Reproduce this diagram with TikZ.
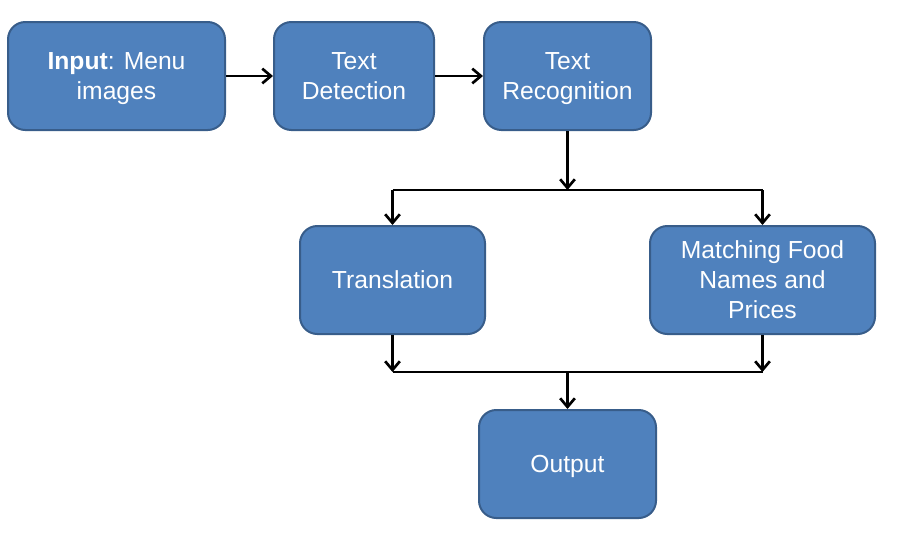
\documentclass[tikz,border=0pt]{standalone}
\usepackage{fontspec}
\setmainfont{Liberation Sans}
\usetikzlibrary{arrows.meta}
\usetikzlibrary{calc}

\definecolor{boxfill}{HTML}{4F81BD}
\definecolor{boxline}{HTML}{385D8A}
% line strut, so that the letters sit in the middle of the box
\newcommand{\ls}{\rule[-4pt]{0pt}{21pt}}

\tikzset{
	stage/.style={draw=boxline,fill=boxfill,line width=1.5pt,rounded corners=13pt,
		text=white,align=center,minimum height=81pt,inner sep=2pt,
		font=\fontsize{18.5}{22.5}\selectfont},
	link/.style={line width=2pt,black}
}

\begin{document}
\begin{tikzpicture}[x=0.75pt,y=-0.75pt,>/.tip={Straight Barb[length=6.5pt,width=11pt,line width=2pt]}]
	\useasboundingbox (0,0) rectangle (907,547);
	\draw (116.5,76) node (input) [stage,minimum width=162.75pt] {\ls\textbf{Input}: Menu\\\ls images};
	\draw (354,76) node (detect) [stage,minimum width=120pt] {\ls Text\\\ls Detection};
	\draw (567.5,76) node (recog) [stage,minimum width=125.25pt] {\ls Text\\\ls Recognition};
	\draw (392.5,280) node (trans) [stage,minimum width=138.75pt] {\ls Translation};
	\draw (762.5,280) node (match) [stage,minimum width=168.75pt] {\ls Matching Food\\\ls Names and\\\ls Prices};
	\draw (567.5,464) node (out) [stage,minimum width=132.75pt] {\ls Output};
	\coordinate (split) at (567.5,190);
	\coordinate (merge) at (567.5,372);

	\draw[->,link] (input) -- (detect);
	\draw[->,link] (detect) -- (recog);
	\draw[->,link] (recog) -- (split);
	\draw[link] (split -| trans) -- (split -| match);
	\draw[->,link] (split -| trans) -- (trans);
	\draw[->,link] (split -| match) -- (match);
	\draw[->,link] (trans) -- (merge -| trans);
	\draw[->,link] (match) -- (merge -| match);
	\draw[link] (merge -| trans) -- (merge -| match);
	\draw[->,link] (merge) -- (out);
\end{tikzpicture}
\end{document}
